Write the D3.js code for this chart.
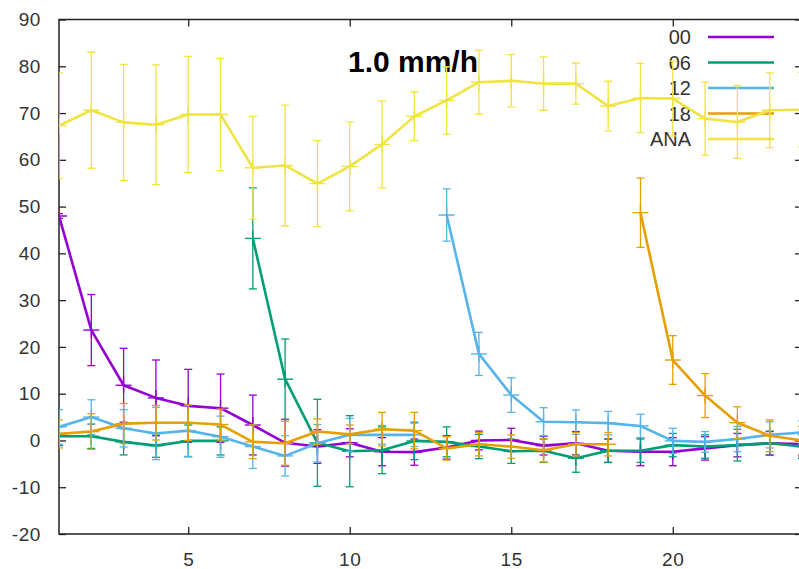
<!DOCTYPE html>
<html>
<head>
  <meta charset="utf-8">
  <title>1.0 mm/h</title>
  <script src="https://d3js.org/d3.v7.min.js"></script>
  <style>
    body { margin: 0; background: #fff; }
    text { font-family: "Liberation Sans", Arial, sans-serif; }
  </style>
</head>
<body>
<svg width="799" height="569"></svg>
<script>
  // forecast hour on the x axis
  const hours = [1,2,3,4,5,6,7,8,9,10,11,12,13,14,15,16,17,18,19,20,21,22,23,24];
  const seriesNames = ["00", "06", "12", "18", "ANA"];
  // hour where each forecast run starts (line is broken there)
  const runStart = [1, 7, 13, 19, 1];

  const f00 = [48.0,23.6,11.8,9.1,7.4,6.9,3.3,-0.5,-1.3,-0.5,-2.4,-2.5,-1.5,0.0,0.1,-1.1,-0.6,-2.2,-2.4,-2.4,-1.7,-1.0,-0.6,-0.8];
  const e00 = [0.5,7.6,7.9,8.1,7.8,7.3,6.4,5.0,3.6,3.0,3.0,2.8,2.5,2.0,2.5,2.0,2.5,2.5,3.0,3.0,2.5,2.5,2.5,2.5];
  const f06 = [0.9,0.9,-0.3,-1.1,-0.1,-0.1,43.2,13.1,-0.5,-2.3,-2.1,-0.1,-0.3,-1.3,-2.3,-2.2,-3.8,-2.2,-2.2,-1.0,-1.3,-1.0,-0.6,-1.3];
  const e06 = [2.0,2.6,2.8,2.5,3.4,3.0,10.8,8.6,9.3,7.6,5.0,4.0,3.2,2.6,2.6,2.5,3.0,2.5,2.5,2.5,2.5,3.4,2.6,2.5];
  const f12 = [2.9,5.0,2.6,1.5,2.1,0.8,-1.3,-3.3,-0.6,1.2,1.2,1.2,48.2,18.5,9.7,4.0,3.9,3.7,3.1,-0.1,-0.3,0.3,1.2,1.7];
  const e12 = [3.7,3.7,4.0,5.6,5.5,4.4,4.7,4.3,4.0,3.5,2.0,2.5,5.6,4.6,3.7,3.0,2.6,2.5,2.5,2.7,2.2,2.7,2.8,2.5];
  const f18 = [1.4,1.9,3.6,3.8,3.8,3.4,-0.3,-0.6,1.9,1.3,2.4,2.1,-1.7,-0.8,-1.3,-2.1,-0.8,-0.8,48.7,17.2,9.6,3.8,1.0,0.0];
  const e18 = [3.0,3.8,4.3,3.7,3.8,3.3,3.6,4.7,2.7,2.0,3.6,3.9,2.5,2.5,2.5,2.5,2.5,2.5,7.4,5.2,4.7,3.4,3.4,3.0];
  const ana = [67.3,70.6,68.0,67.5,69.7,69.7,58.3,58.8,54.9,58.6,63.3,69.3,72.7,76.6,76.9,76.3,76.3,71.5,73.2,73.1,68.8,68.1,70.6,70.7];
  const eAna = [11.3,12.4,12.4,12.8,12.4,12.0,11.0,12.9,9.2,9.5,9.3,5.2,7.2,6.8,5.6,5.7,4.4,5.3,7.4,8.0,7.8,7.8,8.0,8.0];

  const yTicks = [-20,-10,0,10,20,30,40,50,60,70,80,90];
  const xTicks = [5,10,15,20];

  const values = [f00, f06, f12, f18, ana];
  const errors = [e00, e06, e12, e18, eAna];
  const colors = ["#9400d3", "#009e73", "#56b4e9", "#e69f00", "#f0e442"];

  const svg = d3.select("svg");
  svg.append("rect").attr("width", 799).attr("height", 569).attr("fill", "#fff");

  const plotL = 59, plotR = 802, plotT = 19.5, plotB = 534;

  const x = d3.scaleLinear().domain([1, 24]).range([plotL, plotR]);
  const y = d3.scaleLinear().domain([-20, 90]).range([plotB, plotT]);

  // axes (gnuplot style, ticks inward and mirrored)
  svg.append("g")
          .attr("transform", "translate(" + plotL + ",0)")
          .call(d3.axisLeft(y).tickValues(yTicks).tickSize(-7).tickSizeOuter(0).tickPadding(18)
                  .tickFormat(d => String(d)));
  svg.append("g")
          .attr("transform", "translate(" + plotR + ",0)")
          .call(d3.axisRight(y).tickValues(yTicks).tickSize(-7).tickSizeOuter(0).tickFormat(""));
  svg.append("g")
          .attr("transform", "translate(0," + plotB + ")")
          .call(d3.axisBottom(x).tickValues(xTicks).tickSize(-7).tickSizeOuter(0).tickPadding(19));
  svg.append("g")
          .attr("transform", "translate(0," + plotT + ")")
          .call(d3.axisTop(x).tickValues(xTicks).tickSize(-7).tickSizeOuter(0).tickFormat(""));

  svg.selectAll(".domain").remove();
  svg.selectAll(".tick line").attr("stroke", "#222").attr("stroke-width", 1.3);
  svg.selectAll(".tick text")
          .attr("fill", "#333")
          .style("font-size", "19px")
          .style("letter-spacing", "0.6px");

  svg.append("rect")
          .attr("x", plotL).attr("y", plotT)
          .attr("width", plotR - plotL).attr("height", plotB - plotT)
          .attr("fill", "none").attr("stroke", "#222").attr("stroke-width", 1.5);

  // title
  svg.append("text")
          .attr("x", 413).attr("y", 72)
          .attr("text-anchor", "middle")
          .style("font-size", "30px").style("font-weight", "bold")
          .attr("fill", "#000")
          .text("1.0 mm/h");

  // key
  const key = svg.append("g");
  seriesNames.forEach((name, i) => {
    const ky = 37 + i * 25.5;
    key.append("text")
            .attr("x", 691).attr("y", ky + 7)
            .attr("text-anchor", "end")
            .style("font-size", "20px")
            .attr("fill", "#333")
            .text(name);
    key.append("line")
            .attr("x1", 708).attr("x2", 774)
            .attr("y1", ky).attr("y2", ky)
            .attr("stroke", colors[i]).attr("stroke-width", 2.5);
  });

  svg.append("clipPath").attr("id", "plot")
          .append("rect")
          .attr("x", plotL).attr("y", plotT)
          .attr("width", plotR - plotL).attr("height", plotB - plotT);

  const plot = svg.append("g").attr("clip-path", "url(#plot)");

  const line = d3.line()
          .x(d => x(d.h))
          .y(d => y(d.v));

  const cap = 4, cross = 8;

  values.forEach((vals, s) => {
    const pts = hours.map((h, i) => ({ h: h, v: vals[i], e: errors[s][i] }));
    const g = plot.append("g");
    const c = colors[s];

    // error bars
    pts.forEach(d => {
      const px = x(d.h), y1 = y(d.v + d.e), y2 = y(d.v - d.e);
      g.append("line").attr("x1", px).attr("x2", px).attr("y1", y1).attr("y2", y2)
              .attr("stroke", c).attr("stroke-width", 1.3);
      g.append("line").attr("x1", px - cap).attr("x2", px + cap).attr("y1", y1).attr("y2", y1)
              .attr("stroke", c).attr("stroke-width", 1.3);
      g.append("line").attr("x1", px - cap).attr("x2", px + cap).attr("y1", y2).attr("y2", y2)
              .attr("stroke", c).attr("stroke-width", 1.3);
    });

    // line, broken where the new run starts
    const before = pts.filter(d => d.h < runStart[s]);
    const after = pts.filter(d => d.h >= runStart[s]);
    [before, after].forEach(seg => {
      if (seg.length < 2) return;
      g.append("path")
              .datum(seg)
              .attr("d", line)
              .attr("fill", "none")
              .attr("stroke", c)
              .attr("stroke-width", 2.6)
              .attr("stroke-linejoin", "round");
    });

    // "+" point markers
    pts.forEach(d => {
      const px = x(d.h), py = y(d.v);
      g.append("line").attr("x1", px - cross).attr("x2", px + cross).attr("y1", py).attr("y2", py)
              .attr("stroke", c).attr("stroke-width", 1.4);
      g.append("line").attr("x1", px).attr("x2", px).attr("y1", py - cross).attr("y2", py + cross)
              .attr("stroke", c).attr("stroke-width", 1.4);
    });
  });
</script>
</body>
</html>
